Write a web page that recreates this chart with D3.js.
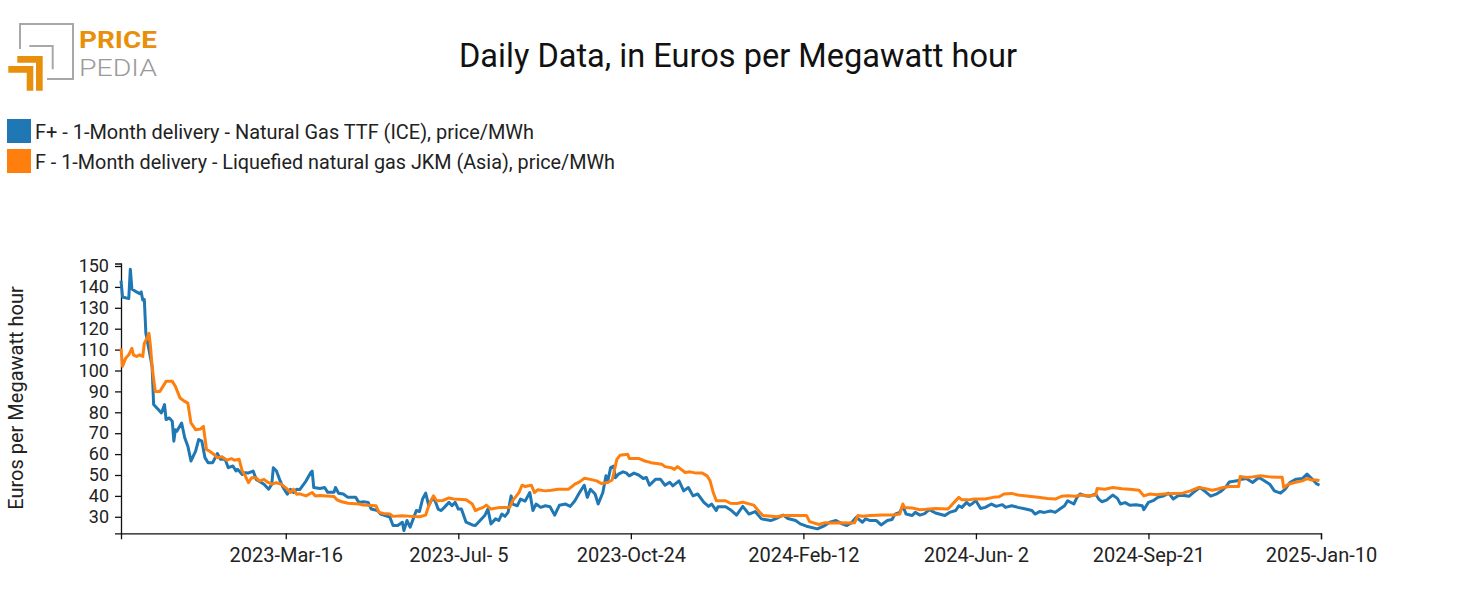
<!DOCTYPE html>
<html>
<head>
<meta charset="utf-8">
<script src="https://cdn.jsdelivr.net/npm/d3@7"></script>
<style>
  html, body { margin: 0; padding: 0; background: #fff; }
  svg { display: block; font-family: Roboto, "Noto Sans", sans-serif; }
</style>
</head>
<body>
<svg id="chart" width="1477" height="615"></svg>
<script>
// ---------------- DATA ----------------
const startDate = "2022-11-30";
const endDate = "2025-01-10";

const seriesNames = [
  "F+ - 1-Month delivery - Natural Gas TTF (ICE), price/MWh",
  "F - 1-Month delivery - Liquefied natural gas JKM (Asia), price/MWh"
];

// TTF (blue): days since startDate, and price
const ttfDays = [
  0,1,5,6,7,10,12,13,14,15,
  16,18,20,21,24,26,28,29,31,33,
  34,35,36,39,41,43,45,48,50,52,
  54,56,59,62,64,67,69,72,74,75,
  78,80,82,85,87,92,95,97,98,100,
  102,104,107,109,111,113,115,119,122,123,
  124,128,131,133,137,138,140,143,146,151,
  153,156,159,161,165,167,170,173,175,178,
  181,182,184,186,188,190,192,194,196,198,
  200,202,204,206,208,211,213,215,217,219,
  222,226,228,231,234,236,238,241,243,245,
  247,249,251,252,255,257,260,263,265,267,
  270,273,276,279,282,286,289,292,295,298,
  300,302,305,307,310,312,313,315,317,318,
  320,323,325,327,330,333,336,338,340,344,
  347,350,353,355,359,362,365,368,371,375,
  378,380,383,384,389,392,396,400,404,408,
  412,418,421,426,429,434,437,441,448,452,
  456,460,464,467,470,473,477,479,482,486,
  489,493,496,498,501,503,505,509,511,514,
  517,520,524,530,533,537,539,541,544,546,
  548,550,553,556,560,563,567,569,573,577,
  582,586,588,591,594,598,601,604,607,609,
  613,615,617,620,623,627,629,631,634,638,
  641,643,646,649,653,657,658,661,664,667,
  671,674,677,680,683,687,690,694,697,701,
  705,708,711,713,718,721,724,728,732,735,
  739,742,746,749,752,756,760,763,766,769,
  771
];
const ttfValues = [
  143,135.2,134.4,148.5,139,137.6,136.8,137.6,133.7,134,
  117.8,110,102,83.7,81.3,79.7,83.7,76.5,77.3,75.7,
  66.2,71.7,71,74.9,67.8,63.8,56.7,61.4,67,66.2,
  58.3,55.9,55.9,60.3,57.5,57.5,53.5,54.3,51.9,52.7,
  50.3,51.1,51,51.9,47.9,45.6,43.2,45.6,53.5,51.9,
  47.9,44.4,40.8,43.2,41.6,43.2,43,47.1,51.1,51.9,
  44,43.5,44,41.7,41.7,44,41.3,40.9,39.3,39.3,
  36.9,37.2,36.9,33.7,33,31.3,30.6,29.8,25.8,25.8,
  27.4,23.4,28.2,25,29,33,32.5,38.5,41.3,35.3,
  38.5,37.8,33.7,33,34.5,36.9,35.3,36.9,33.7,33.7,
  27.4,26.1,25.8,28.2,30.6,33.7,26.6,29,28.2,31.3,
  30.2,32.1,40,36.1,35.3,38.5,37.5,41.6,33,36.1,
  34.5,35.3,34.8,30.8,35.5,36.1,35,37.7,41.6,45.1,
  39.3,43.2,40.9,36.1,41.6,49.6,46.4,53.5,54.3,48.7,
  50.4,51.5,51,49.6,50.9,50,48.3,48.8,45.1,48,
  48,45.1,46.5,44.8,47.2,42.4,44,40,40.9,36.9,
  35,36.1,33,34.8,34.8,33.4,30.8,35,31.3,32.5,
  29,28.2,29,30.8,29.2,28.2,26.6,25.5,24.2,25.5,
  27.4,28.2,26.6,25.8,27.2,29.8,27.4,29,28.2,28.2,
  26.1,28.2,28.7,31.3,32.1,35.3,31.3,30.6,32.1,30.8,
  31.5,33.4,31.8,30.6,32.1,33,35.3,34.5,36.9,35.5,
  36.5,37.7,34,34.5,36.1,35,35.8,34.5,35.3,34.5,
  33.7,33,31.3,32.5,32.1,32.8,32.1,33.7,35.3,37.7,
  36.1,39.3,40.9,40.1,39.8,40.9,38.5,37.2,38,40.4,
  38.8,36.1,36.8,35.5,35.8,35.3,33.4,36.9,37.7,39.3,
  40.1,41.3,38.5,40.1,40.3,39.8,41.7,44,42.4,39.9,
  41,42.4,44.5,46.7,47.2,48,48.3,46.4,48.8,47.5,
  45.6,42.4,41.3,43.2,46.4,48,48.3,50.4,48.3,45.9,
  45.1
];

// JKM (orange): days since startDate, and price
const jkmDays = [
  0,1,3,5,7,8,10,12,14,15,
  17,18,19,20,22,25,27,29,33,35,
  38,41,43,45,48,51,53,55,57,59,
  62,65,68,71,73,76,78,80,82,84,
  87,89,92,94,97,100,103,107,109,111,
  113,115,119,123,125,128,137,139,142,146,
  153,156,164,166,169,173,175,181,187,192,
  196,198,201,203,207,211,214,222,226,228,
  230,233,235,238,244,250,252,256,258,260,
  264,266,268,273,277,281,288,292,295,298,
  302,306,309,313,316,319,321,326,327,333,
  337,341,348,350,354,356,358,363,366,370,
  374,377,379,381,383,389,392,396,400,407,
  411,413,422,426,441,443,449,453,456,463,
  469,472,474,477,482,490,497,501,503,504,
  509,514,518,524,532,535,539,541,545,549,
  556,561,565,568,573,577,584,590,596,601,
  605,609,614,618,622,627,628,633,638,644,
  649,655,658,662,666,671,677,683,688,693,
  697,702,705,709,713,719,720,724,728,733,
  739,745,747,748,751,755,760,763,766,769,
  771
];
const jkmValues = [
  110.6,102,105.9,107.5,110.6,107.5,106.7,107.5,106.7,113,
  115.9,117.8,111.4,101.9,90,90,92.4,94.8,94.8,92.4,
  86.8,85.2,84.4,74.9,71.7,72,73.3,62.2,61.4,60.3,
  58.3,58.7,57.1,57.8,57.1,57.5,51.9,49.5,46.3,48.7,
  48.7,47.1,47.9,46.7,45.6,46.3,45.6,43.2,41.6,43.2,
  40.8,41,40,41.6,40,40.2,39.7,38.1,37.2,36.5,
  36.1,35.6,35.3,32.1,31.6,31.3,30.2,30.5,30.2,30,
  30.8,35.3,40,37.7,37.8,39,38.5,38.1,36.1,33,
  33.7,34.5,35.6,33.7,34.5,34.5,37.7,41.6,45.1,44.5,
  45.1,41.6,42.9,42.4,42.7,43.2,43.2,45.6,46.7,48.4,
  47.9,47.2,45.9,46.4,47.6,57.5,59.4,59.9,57.9,57.9,
  56.7,55.9,55.1,54,53.5,52.7,54,51.2,51.5,50.9,
  50.9,49.6,47.2,41.6,37.7,37.7,36.5,36.4,37,35.6,
  32.1,30.6,30,30.6,30.6,27.7,26.3,27.2,27,27.2,
  27,27.2,30.6,30.3,30.6,30.9,30.9,31.3,36.1,34.5,
  34.2,33.4,33.6,34,33.7,36.1,39.3,38.1,38.1,38.5,
  38.5,39.3,39.6,40.9,41.2,40.4,39.8,39.3,38.8,38.5,
  39.8,40.1,39.8,40.4,40.1,40.4,43.5,43.2,44,43.4,
  43.2,42.7,40,40.9,40.6,40.9,41.2,41.3,42.4,44,
  43.6,42.7,43.2,44,44.5,44.5,49.3,48.8,49.1,49.6,
  49.1,48.9,48.9,44,45.6,46.4,47.2,48.3,47.6,47.6,
  47.3
];

const xTickDates = ["2023-03-16","2023-07-05","2023-10-24","2024-02-12","2024-06-02","2024-09-21","2025-01-10"];
const yTickValues = [30,40,50,60,70,80,90,100,110,120,130,140,150];
const yDomain = [22.1, 151.2];

const colors = ["#1f77b4", "#ff7f0e"];

// ---------------- DRAW ----------------
const svg = d3.select("#chart");
svg.append("rect").attr("width", 1477).attr("height", 615).attr("fill", "#fff");

const parse = d3.timeParse("%Y-%m-%d");
const t0 = parse(startDate);
const toDate = d => d3.timeDay.offset(t0, d);

const x = d3.scaleTime().domain([t0, parse(endDate)]).range([121, 1321]);
const y = d3.scaleLinear().domain(yDomain).range([533.3, 263.5]);

// Logo
const logo = svg.append("g").attr("class", "logo");
logo.append("path").attr("d", "M20,49 V24 H73 V79 H47").attr("fill", "none").attr("stroke", "#a8a8a8").attr("stroke-width", 2);
logo.append("path").attr("d", "M29.3,46 H52.7 V69.3").attr("fill", "none").attr("stroke", "#a8a8a8").attr("stroke-width", 2);
logo.append("path").attr("d", "M17.3,56 H42.7 V90.7 H36 V62.7 H17.3 Z").attr("fill", "#e8900c");
logo.append("path").attr("d", "M8.3,66 H33.3 V90.7 H26.7 V72.7 H8.3 Z").attr("fill", "#e8900c");
logo.append("text").attr("x", 79).attr("y", 47.5).attr("font-size", 23).attr("font-weight", 700)
  .attr("fill", "#e8900c").attr("textLength", 78).attr("lengthAdjust", "spacingAndGlyphs").text("PRICE");
logo.append("text").attr("x", 79).attr("y", 75.5).attr("font-size", 24).attr("font-weight", 300)
  .attr("fill", "#9a9a9a").attr("textLength", 78).attr("lengthAdjust", "spacingAndGlyphs").text("PEDIA");

// Title
svg.append("text").attr("x", 738).attr("y", 67).attr("text-anchor", "middle")
  .attr("font-size", 33).attr("fill", "#111")
  .attr("textLength", 558).attr("lengthAdjust", "spacingAndGlyphs")
  .text("Daily Data, in Euros per Megawatt hour");

// Legend
const legendWidths = [499, 580];
seriesNames.forEach((name, i) => {
  const g = svg.append("g").attr("transform", `translate(7,${119 + i * 30})`);
  g.append("rect").attr("width", 24).attr("height", 24).attr("fill", colors[i]);
  g.append("text").attr("x", 28).attr("y", 20).attr("font-size", 20).attr("fill", "#222")
    .attr("textLength", legendWidths[i]).attr("lengthAdjust", "spacingAndGlyphs").text(name);
});

// Axes
const xAxis = svg.append("g").attr("transform", "translate(0,533.3)")
  .call(d3.axisBottom(x).tickValues(xTickDates.map(parse)).tickFormat(d3.timeFormat("%Y-%b-%e")).tickSize(6).tickPadding(9));
const yAxis = svg.append("g").attr("transform", "translate(121,0)")
  .call(d3.axisLeft(y).tickValues(yTickValues).tickSize(6).tickPadding(6));
[xAxis, yAxis].forEach(a => {
  a.selectAll("text").attr("font-family", "Roboto").attr("fill", "#222");
  a.selectAll("path, line").attr("stroke", "#111").attr("stroke-width", 1.3);
});
xAxis.selectAll("text").attr("font-size", 20);
yAxis.selectAll("text").attr("font-size", 18);

// Y label
svg.append("text").attr("transform", "translate(23,398) rotate(-90)").attr("text-anchor", "middle")
  .attr("font-size", 20).attr("fill", "#222").text("Euros per Megawatt hour");

// Lines
const line = d3.line().x(d => x(d.date)).y(d => y(d.value));
const ttfData = ttfDays.map((d, i) => ({ date: toDate(d), value: ttfValues[i] }));
const jkmData = jkmDays.map((d, i) => ({ date: toDate(d), value: jkmValues[i] }));
[ttfData, jkmData].forEach((data, i) => {
  svg.append("path").datum(data).attr("d", line).attr("fill", "none")
    .attr("stroke", colors[i]).attr("stroke-width", 3).attr("stroke-linejoin", "round");
});
</script>
</body>
</html>
